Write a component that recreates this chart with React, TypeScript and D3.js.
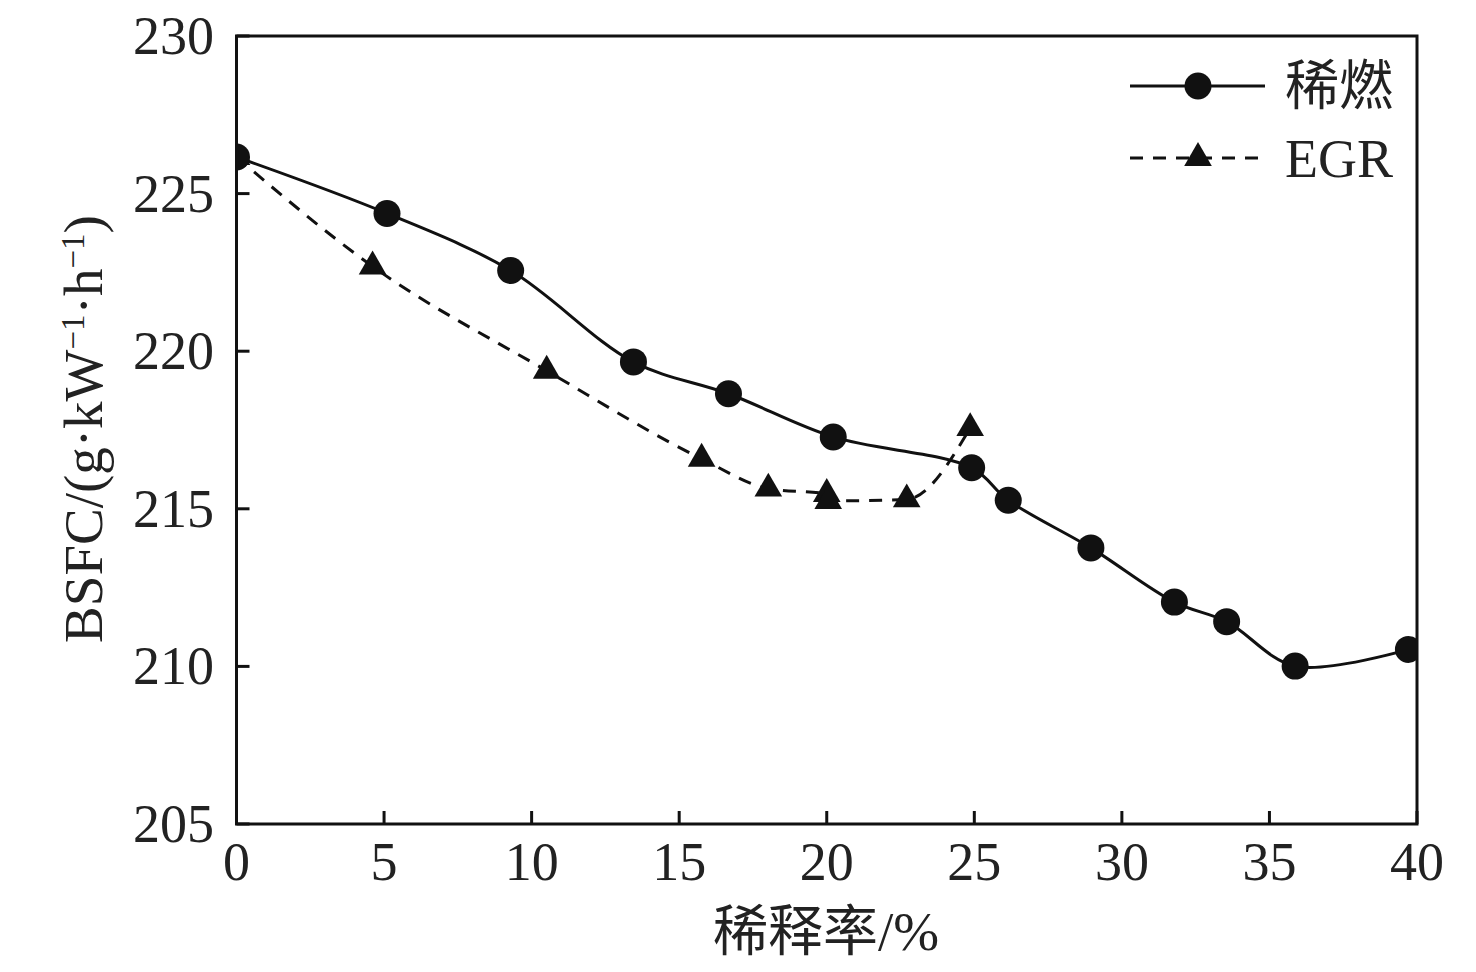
import React, { useEffect, useRef } from "react";
import * as d3 from "d3";

const leanX = [0, 5.1, 9.29, 13.45, 16.67, 20.22, 24.91, 26.15, 28.95, 31.78, 33.55, 35.87, 39.71];
const leanY = [226.16, 224.37, 222.56, 219.66, 218.65, 217.28, 216.3, 215.27, 213.76, 212.04, 211.42, 210.01, 210.54];

const egrX = [0, 4.61, 10.51, 15.76, 18.02, 20.0, 20.05, 22.71, 24.86];
const egrY = [226.16, 222.69, 219.38, 216.59, 215.64, 215.47, 215.25, 215.3, 217.56];

const xTicks = [0, 5, 10, 15, 20, 25, 30, 35, 40];
const yTicks = [205, 210, 215, 220, 225, 230];

const seriesNames = ["稀燃", "EGR"];
const xTitle = "稀释率/%";

const W = 1476;
const H = 972;
const FONT = "'Liberation Serif', 'Times New Roman', 'Noto Sans CJK SC', serif";

export default function App() {
  const ref = useRef<SVGSVGElement | null>(null);

  useEffect(() => {
    const svg = d3.select(ref.current);
    svg.selectAll("*").remove();

    const L = 236.5, R = 1417, T = 36, B = 824;
    const x = d3.scaleLinear().domain([0, 40]).range([L, R]);
    const y = d3.scaleLinear().domain([205, 230]).range([B, T]);

    svg.append("rect").attr("width", W).attr("height", H).attr("fill", "#fff");

    svg.append("defs").append("clipPath").attr("id", "plotclip")
      .append("rect").attr("x", L).attr("y", T).attr("width", R - L).attr("height", B - T);

    const g = svg.append("g").attr("clip-path", "url(#plotclip)");

    const leanLine = d3.line<[number, number]>()
      .x((d) => x(d[0]))
      .y((d) => y(d[1]))
      .curve(d3.curveCatmullRom.alpha(0.5));
    const egrLine = d3.line<[number, number]>()
      .x((d) => x(d[0]))
      .y((d) => y(d[1]))
      .curve(d3.curveMonotoneX);

    const leanPts: [number, number][] = leanX.map((v, i) => [v, leanY[i]]);
    const egrPts: [number, number][] = egrX.map((v, i) => [v, egrY[i]]);

    g.append("path").attr("d", egrLine(egrPts) as string).attr("fill", "none")
      .attr("stroke", "#111").attr("stroke-width", 3).attr("stroke-dasharray", "13,10");
    g.append("path").attr("d", leanLine(leanPts) as string).attr("fill", "none")
      .attr("stroke", "#111").attr("stroke-width", 3);

    const tri = d3.symbol().type(d3.symbolTriangle).size(330);
    g.selectAll("path.tri").data(egrPts).enter().append("path")
      .attr("class", "tri")
      .attr("d", tri() as string)
      .attr("transform", (d) => `translate(${x(d[0])},${y(d[1])})`)
      .attr("fill", "#111");

    g.selectAll("circle.pt").data(leanPts).enter().append("circle")
      .attr("class", "pt")
      .attr("cx", (d) => x(d[0])).attr("cy", (d) => y(d[1]))
      .attr("r", 13.5).attr("fill", "#111");

    // frame
    svg.append("rect").attr("x", L).attr("y", T).attr("width", R - L).attr("height", B - T)
      .attr("fill", "none").attr("stroke", "#111").attr("stroke-width", 3);

    // ticks
    const tl = 13;
    svg.selectAll("line.xt").data(xTicks).enter().append("line")
      .attr("x1", (d) => x(d)).attr("x2", (d) => x(d)).attr("y1", B).attr("y2", B - tl)
      .attr("stroke", "#111").attr("stroke-width", 3);
    svg.selectAll("line.yt").data(yTicks).enter().append("line")
      .attr("x1", L).attr("x2", L + tl).attr("y1", (d) => y(d)).attr("y2", (d) => y(d))
      .attr("stroke", "#111").attr("stroke-width", 3);

    svg.selectAll("text.xl").data(xTicks).enter().append("text")
      .attr("x", (d) => x(d)).attr("y", 880)
      .attr("text-anchor", "middle").attr("font-family", FONT).attr("font-size", 54)
      .attr("fill", "#222").text((d) => String(d));

    svg.selectAll("text.yl").data(yTicks).enter().append("text")
      .attr("x", 214).attr("y", (d) => y(d) + 18)
      .attr("text-anchor", "end").attr("font-family", FONT).attr("font-size", 54)
      .attr("fill", "#222").text((d) => String(d));

    svg.append("text").attr("x", 826).attr("y", 950).attr("text-anchor", "middle")
      .attr("font-family", FONT).attr("font-size", 55).attr("fill", "#222").text(xTitle);

    const yl = svg.append("text")
      .attr("transform", `translate(102,429) rotate(-90)`)
      .attr("text-anchor", "middle").attr("font-family", FONT).attr("font-size", 55).attr("fill", "#222");
    yl.append("tspan").text("BSFC/(g·kW");
    yl.append("tspan").attr("baseline-shift", "super").attr("font-size", 33).text("−1");
    yl.append("tspan").text("·h");
    yl.append("tspan").attr("baseline-shift", "super").attr("font-size", 33).text("−1");
    yl.append("tspan").text(")");

    // legend
    const lg = svg.append("g");
    const rows = [86, 158];
    lg.append("line").attr("x1", 1130).attr("x2", 1265).attr("y1", rows[0]).attr("y2", rows[0])
      .attr("stroke", "#111").attr("stroke-width", 3);
    lg.append("circle").attr("cx", 1198).attr("cy", rows[0]).attr("r", 13.5).attr("fill", "#111");
    lg.append("line").attr("x1", 1130).attr("x2", 1265).attr("y1", rows[1]).attr("y2", rows[1])
      .attr("stroke", "#111").attr("stroke-width", 3).attr("stroke-dasharray", "13,10");
    lg.append("path").attr("d", tri() as string).attr("transform", `translate(1198,${rows[1]})`).attr("fill", "#111");
    seriesNames.forEach((n, i) => {
      lg.append("text").attr("x", 1285).attr("y", rows[i] + 19)
        .attr("font-family", FONT).attr("font-size", 54).attr("fill", "#222").text(n);
    });
  }, []);

  return (
    <svg ref={ref} width={W} height={H} style={{ position: "absolute", left: 0, top: 0 }} />
  );
}
